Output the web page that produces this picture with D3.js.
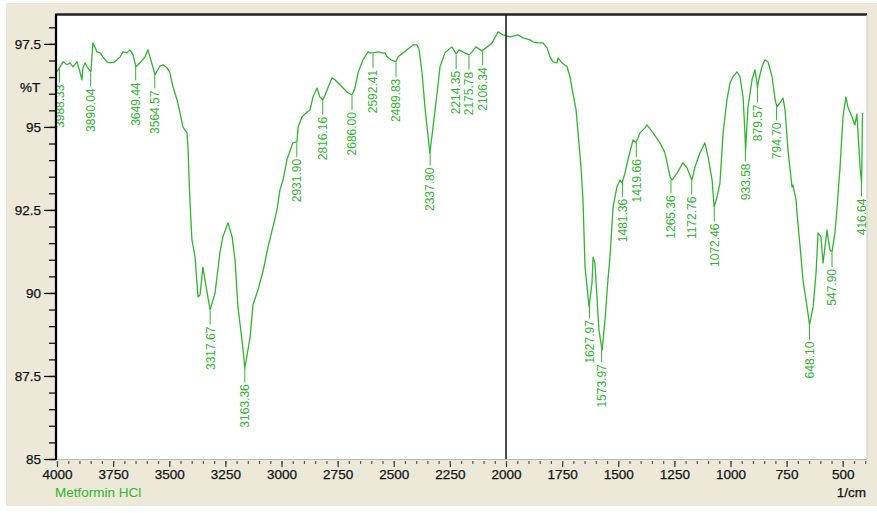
<!DOCTYPE html>
<html>
<head>
<meta charset="utf-8">
<script src="https://cdn.jsdelivr.net/npm/d3@7/dist/d3.min.js"></script>
<style>
  body { margin: 0; background: #ffffff; }
  svg { display: block; font-family: "Liberation Sans", Arial, sans-serif; }
</style>
</head>
<body>
<div id="chart"></div>
<script>
// spectrum: wavenumber (1/cm) and %T
var wavenumbers = [4000,3987,3973,3955,3942,3929,3911,3898,3889,3884,3875,3866,3849,3840,3822,3808,3795,3777,3764,3742,
  3719,3706,3688,3675,3661,3648,3630,3608,3595,3586,3572,3563,3541,3528,3510,3497,3483,3465,3452,3439,
  3421,3416,3412,3408,3399,3385,3372,3363,3350,3341,3318,3296,3274,3261,3238,3220,3207,3194,3176,3163,
  3140,3127,3105,3082,3060,3038,3020,3007,2993,2976,2949,2931,2926,2909,2886,2873,2860,2842,2829,2815,
  2797,2775,2762,2739,2708,2686,2673,2659,2637,2615,2606,2592,2570,2552,2539,2530,2512,2490,2481,2441,
  2414,2396,2387,2374,2361,2347,2339,2325,2307,2294,2272,2241,2222,2209,2192,2165,2151,2134,2107,2089,
  2062,2036,2013,1982,1947,1924,1893,1880,1857,1835,1817,1804,1791,1773,1768,1751,1728,1715,1702,1688,
  1679,1666,1657,1653,1648,1630,1617,1612,1604,1595,1586,1572,1559,1546,1537,1523,1506,1492,1483,1470,
  1457,1434,1421,1403,1381,1372,1345,1314,1292,1269,1260,1238,1212,1194,1172,1158,1136,1114,1100,1082,
  1073,1060,1047,1033,1016,1002,989,971,958,944,937,933,922,904,891,882,880,874,860,846,
  833,815,801,793,780,766,757,744,726,722,708,704,690,677,659,648,632,619,610,597,
  588,579,570,566,557,548,535,526,512,499,486,477,459,446,437,432,423,416,412];

var transmittance = [96.66,96.81,96.96,96.87,96.93,96.81,96.96,96.66,96.42,96.78,96.93,96.81,96.66,97.53,97.26,97.23,97.11,96.96,96.93,96.96,
  97.11,97.26,97.23,97.32,97.17,96.81,96.93,97.11,97.32,97.11,96.78,96.57,96.84,96.87,96.78,96.63,96.20,95.81,95.42,95.00,
  94.82,94.31,93.49,92.80,91.60,91.08,89.88,89.94,90.78,90.39,89.49,90.00,91.23,91.69,92.11,91.69,90.99,89.58,88.58,87.74,
  88.67,89.64,90.09,90.66,91.39,91.99,92.50,93.10,93.40,94.01,94.52,94.55,95.00,95.30,95.45,95.51,95.90,96.17,95.90,95.81,
  96.11,96.48,96.42,96.26,96.05,95.96,96.17,96.63,97.02,97.26,97.23,97.23,97.26,97.23,97.23,97.11,97.02,96.96,97.11,97.32,
  97.47,97.47,97.32,96.63,95.60,94.70,94.22,95.00,96.02,96.81,97.23,97.41,97.20,97.32,97.26,97.17,97.26,97.41,97.29,97.38,
  97.53,97.86,97.77,97.71,97.77,97.68,97.62,97.56,97.53,97.53,97.38,97.11,96.96,96.93,97.08,96.93,96.81,96.51,96.02,95.51,
  94.82,93.80,92.80,91.90,90.78,89.58,90.30,91.08,90.90,89.88,88.89,88.28,89.19,90.39,91.08,92.59,93.19,93.40,93.31,93.61,
  94.01,94.61,94.52,94.82,94.97,95.06,94.82,94.52,94.22,93.49,93.40,93.61,93.92,93.77,93.40,93.80,94.22,94.52,94.10,93.40,
  92.59,92.89,93.31,94.82,95.81,96.33,96.51,96.66,96.51,95.90,95.00,94.31,95.60,96.42,96.72,96.33,96.17,96.42,96.81,97.02,
  96.96,96.51,95.81,95.60,95.72,95.87,95.51,94.31,93.19,93.25,92.80,92.41,91.39,90.39,89.58,89.04,89.58,90.60,91.81,91.69,
  90.90,91.39,91.90,91.69,91.30,91.23,91.81,92.50,93.80,95.30,95.90,95.60,95.30,95.06,95.39,94.82,93.80,93.31,95.42];

var peakLabels = ["3988.33","3890.04","3649.44","3564.57","3317.67","3163.36","2931.90","2816.16","2686.00","2592.41",
  "2489.83","2337.80","2214.35","2175.78","2106.34","1627.97","1573.97","1481.36","1419.66","1265.36",
  "1172.76","1072.46","933.58","879.57","794.70","648.10","547.90","416.64"];
// where each label's leader sits on the wavenumber axis (as drawn in the picture)
var peakPos = [3989,3850,3649.44,3564.57,3317.67,3163.36,2931.9,2816.16,2686,2592.41,
  2489.83,2337.8,2222,2165,2104,1627.97,1573.97,1481.36,1419.66,1265.36,
  1172.76,1072.46,933.58,879.57,794.7,648.1,547.9,416.64];

var xTicks = [4000,3750,3500,3250,3000,2750,2500,2250,2000,1750,1500,1250,1000,750,500];
var yTicks = [85,87.5,90,92.5,95,97.5];
var sampleName = "Metformin HCl";
var xUnit = "1/cm";
var yUnit = "%T";

var W = 877, H = 513;
var pLeft = 57, pRight = 867, pTop = 15, pBottom = 459;
var green = "#30b530";

var x = d3.scaleLinear().domain([4000, 392]).range([pLeft, pRight]);
var y = d3.scaleLinear().domain([85, 98.37]).range([pBottom, pTop]);

var svg = d3.select("#chart").append("svg")
    .attr("width", W)
    .attr("height", H);

// window background
svg.append("rect").attr("x", 6).attr("y", 3).attr("width", W - 6).attr("height", 503)
    .attr("fill", "#ece9d8");
svg.append("rect").attr("x", pLeft).attr("y", pTop).attr("width", pRight - pLeft).attr("height", pBottom - pTop)
    .attr("fill", "#ffffff");

var spectrum = wavenumbers.map(function(w, i) { return {wn: w, t: transmittance[i]}; });

svg.append("path")
    .datum(spectrum)
    .attr("fill", "none")
    .attr("stroke", green)
    .attr("stroke-width", 1.3)
    .attr("stroke-linejoin", "round")
    .attr("d", d3.line()
        .x(function(d) { return x(d.wn); })
        .y(function(d) { return y(d.t); }));

// curve value under a peak label
var bis = d3.bisector(function(d) { return -d.wn; }).left;
function curveAt(w) {
    var i = bis(spectrum, -w);
    if (i <= 0) return spectrum[0].t;
    if (i >= spectrum.length) return spectrum[spectrum.length - 1].t;
    var a = spectrum[i - 1], b = spectrum[i];
    var f = (a.wn - w) / (a.wn - b.wn);
    return a.t + f * (b.t - a.t);
}

var peaks = svg.append("g").selectAll("g")
    .data(peakLabels)
    .enter().append("g")
    .attr("transform", function(d, i) {
        return "translate(" + x(peakPos[i]) + "," + y(curveAt(peakPos[i])) + ")";
    });

peaks.append("line")
    .attr("y1", 1).attr("y2", 15)
    .attr("stroke", green)
    .attr("stroke-width", 1);

peaks.append("text")
    .attr("transform", "translate(0,17) rotate(-90)")
    .attr("text-anchor", "end")
    .attr("dy", "0.36em")
    .attr("fill", green)
    .style("font-size", "12px")
    .text(function(d) { return d; });

// divider at 2000
svg.append("line")
    .attr("x1", x(2000)).attr("x2", x(2000))
    .attr("y1", pTop).attr("y2", pBottom)
    .attr("stroke", "#111").attr("stroke-width", 1.5);

// frame
svg.append("line").attr("x1", pLeft).attr("x2", pRight).attr("y1", pTop - 0.5).attr("y2", pTop - 0.5)
    .attr("stroke", "#222").attr("stroke-width", 2.5);
svg.append("line").attr("x1", pRight).attr("x2", pRight).attr("y1", pTop).attr("y2", pBottom)
    .attr("stroke", "#c8c8c8").attr("stroke-width", 1);
svg.append("line").attr("x1", pLeft).attr("x2", pRight).attr("y1", pBottom + 0.5).attr("y2", pBottom + 0.5)
    .attr("stroke", "#b8b8b8").attr("stroke-width", 1);

// y axis
var yMajor = svg.append("g")
    .attr("transform", "translate(" + (pLeft - 1) + ",0)")
    .call(d3.axisLeft(y).tickValues(yTicks).tickSize(12).tickPadding(3)
        .tickFormat(function(d) { return String(d); }));
svg.append("g")
    .attr("transform", "translate(" + (pLeft - 1) + ",0)")
    .call(d3.axisLeft(y).tickValues(d3.range(85, 98.01, 0.5)).tickSize(7).tickFormat(""));

svg.selectAll(".domain").remove();
svg.selectAll(".tick line").attr("stroke", "#111").attr("stroke-width", 1.3);
yMajor.selectAll("text").attr("fill", "#111").style("font-size", "13.5px")
    .attr("stroke", "#111").attr("stroke-width", 0.25);

svg.append("line").attr("x1", pLeft - 1).attr("x2", pLeft - 1).attr("y1", pTop - 1.5).attr("y2", pBottom + 1)
    .attr("stroke", "#000").attr("stroke-width", 2.2);

svg.append("text")
    .attr("x", 20).attr("y", y(96.2)).attr("dy", "0.35em")
    .attr("fill", "#111").attr("stroke", "#111").attr("stroke-width", 0.25)
    .style("font-size", "13.5px")
    .text(yUnit);

// x axis
var xMajor = svg.append("g")
    .attr("transform", "translate(0," + (pBottom + 2) + ")")
    .call(d3.axisBottom(x).tickValues(xTicks).tickSize(6).tickPadding(2)
        .tickFormat(function(d) { return String(d); }));
var xMinor = svg.append("g")
    .attr("transform", "translate(0," + (pBottom + 2) + ")")
    .call(d3.axisBottom(x).tickValues(d3.range(400, 4001, 50)).tickSize(3).tickFormat(""));
xMajor.select(".domain").remove();
xMinor.select(".domain").remove();
xMajor.selectAll(".tick line").attr("stroke", "#333").attr("stroke-width", 1.2);
xMinor.selectAll(".tick line").attr("stroke", "#555").attr("stroke-width", 1.2);
xMajor.selectAll("text").attr("fill", "#111").style("font-size", "13.5px")
    .attr("stroke", "#111").attr("stroke-width", 0.25);

svg.append("text")
    .attr("x", pLeft - 2).attr("y", 497)
    .attr("fill", green).style("font-size", "13.5px")
    .text(sampleName);

svg.append("text")
    .attr("x", pRight - 1).attr("y", 497)
    .attr("text-anchor", "end")
    .attr("fill", "#111").attr("stroke", "#111").attr("stroke-width", 0.25)
    .style("font-size", "13.5px")
    .text(xUnit);
</script>
</body>
</html>
